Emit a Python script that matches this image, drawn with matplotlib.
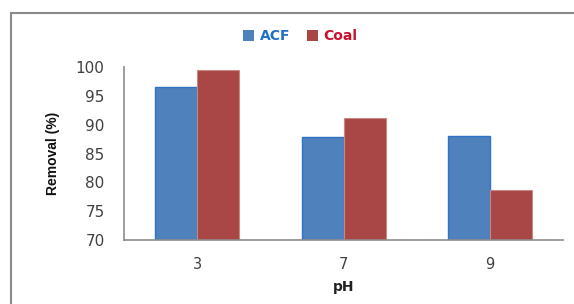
import matplotlib.pyplot as plt
import numpy as np
from matplotlib.lines import Line2D
from matplotlib import font_manager

# data
ph = ['3', '7', '9']
acf = [96.5, 87.9, 88.1]
coal = [99.5, 91.1, 78.7]

names = {f.name for f in font_manager.fontManager.ttflist}
ylab_fam = [n for n in ['Liberation Sans Narrow', 'DejaVu Sans Condensed', 'Liberation Sans'] if n in names]

fig = plt.figure(figsize=(5.74, 3.04), dpi=100)
ax = fig.add_axes([0.216, 0.2105, 0.765, 0.569])

x = np.arange(len(ph))
w = 0.287
ax.bar(x - w/2, acf, w, color='#4F81BD', edgecolor='#2F73C4', linewidth=1.0, label='ACF')
ax.bar(x + w/2, coal, w, color='#A84745', edgecolor='#C98884', linewidth=0.8, label='Coal')

ax.set_xlim(-0.5, 2.5)
ax.set_ylim(70, 100)
ax.set_yticks([70, 75, 80, 85, 90, 95, 100])
ax.set_xticks(x)
ax.set_xticklabels(ph)

for s in ['top', 'right']:
    ax.spines[s].set_visible(False)
for s in ['left', 'bottom']:
    ax.spines[s].set_color('#8C8C8C')
    ax.spines[s].set_linewidth(1.2)

ax.tick_params(axis='y', length=0, pad=14, labelsize=11, labelcolor='#404040')
ax.tick_params(axis='x', length=0, pad=12, labelsize=10.5, labelcolor='#404040')

ax.set_xlabel('pH', fontsize=10, fontweight='bold', color='#222222', labelpad=6)
ax.set_ylabel('Removal (%)', fontsize=10, fontweight='bold', color='#111111',
              family=ylab_fam + ['DejaVu Sans'], labelpad=11)

leg = fig.legend(loc='center', bbox_to_anchor=(0.523, 0.88), ncol=2, frameon=False,
                 handlelength=0.8, handleheight=0.8, handletextpad=0.4, columnspacing=1.2,
                 prop={'weight': 'bold', 'size': 10},
                 labelcolor=['#1F6FC5', '#C8102E'])
for h in leg.legend_handles:
    h.set_linewidth(0)

# outer chart frame
fig.add_artist(Line2D([0.0200, 0.0200], [0.0, 0.957], color='#8A8A8A', lw=1.5, transform=fig.transFigure))
fig.add_artist(Line2D([0.0200, 1.0], [0.957, 0.957], color='#8A8A8A', lw=1.5, transform=fig.transFigure))

fig.savefig('out.png', dpi=100)
